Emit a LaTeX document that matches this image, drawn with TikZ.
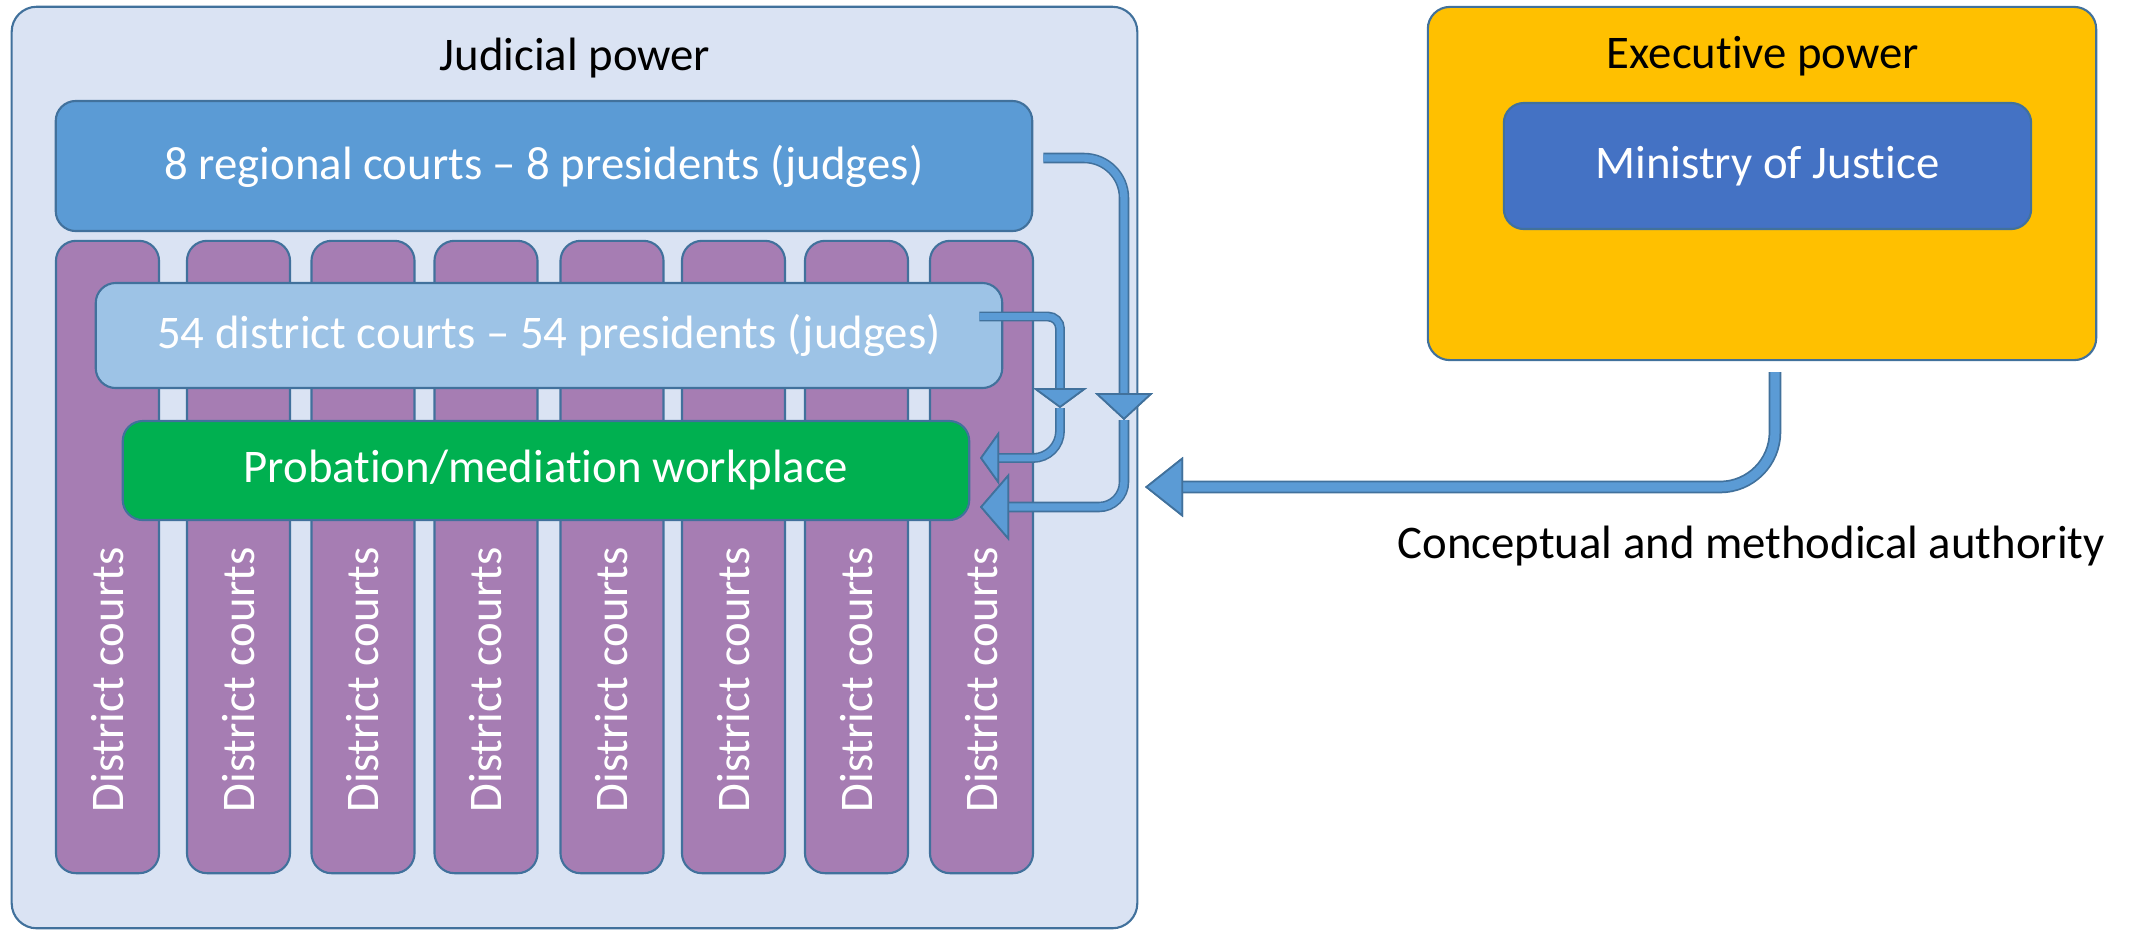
\documentclass[tikz,border=0pt]{standalone}
\usepackage{fontspec}
\setmainfont{Carlito}[Ligatures={TeX,NoCommon}, RawFeature={-liga;-clig;-dlig;-rlig;-calt}]
\usetikzlibrary{arrows.meta}
\definecolor{judfill}{HTML}{DAE3F3}
\definecolor{boxline}{HTML}{41719C}
\definecolor{regfill}{HTML}{5B9BD5}
\definecolor{distfill}{HTML}{9DC3E6}
\definecolor{colfill}{HTML}{A67DB3}
\definecolor{probfill}{HTML}{00B050}
\definecolor{exefill}{HTML}{FFC000}
\definecolor{minfill}{HTML}{4472C4}
\definecolor{arrfill}{HTML}{5B9BD5}
\tikzset{
  panel/.style={draw=boxline, line width=0.6pt, rounded corners=0.2cm, inner sep=0pt},
  slidefont/.style={font=\fontsize{13.3}{16}\selectfont},
  wtext/.style={text=white, slidefont},
  shaft/.style 2 args={draw=arrfill, line width=#2, preaction={draw=boxline, line width=#1}},
  head/.style 2 args={-{Triangle[width=#1, length=#2, line width=0.5pt, fill=arrfill, color=boxline]}}
}

\begin{document}
\begin{tikzpicture}[x=0.01cm, y=-0.01cm]
          \useasboundingbox (0,0) rectangle (2144,929);
          % judicial side
          \node[panel, fill=judfill, rounded corners=0.25cm, minimum width=11.25cm, minimum height=9.21cm] (jud) at (574.5,467.5) {};
          \node[slidefont, anchor=base] (judt) at (575,70) {Judicial power};
          \node[panel, fill=regfill, wtext, minimum width=9.76cm, minimum height=1.30cm] (reg) at (544,166) {8 regional courts -- 8 presidents (judges)};
          \foreach \cx [count=\i] in {107.5,238.5,363,486,612,733.5,856.5,981.5} {
            \node[panel, fill=colfill, minimum width=1.03cm, minimum height=6.32cm] (col\i) at (\cx,557) {};
            \node[wtext, rotate=90] (colt\i) at (\cx,680) {District courts};
          }
          \node[panel, fill=distfill, wtext, minimum width=9.06cm, minimum height=1.05cm] (dist) at (549,335.5) {54 district courts -- 54 presidents (judges)};
          \node[panel, fill=probfill, wtext, minimum width=8.46cm, minimum height=0.99cm] (prob) at (546,470.5) {Probation/mediation workplace};

          % executive side
          \node[panel, fill=exefill, rounded corners=0.22cm, minimum width=6.68cm, minimum height=3.53cm] (exe) at (1762,183.5) {};
          \node[slidefont, anchor=base] (exet) at (1763,68) {Executive power};
          \node[panel, fill=minfill, wtext, minimum width=5.27cm, minimum height=1.26cm] (min) at (1767.5,166) {Ministry of Justice};
          \node[slidefont, inner sep=0pt, anchor=base west] (auth) at (1397,558) {Conceptual and methodical authority};
          \node[text=gray, font=\fontsize{10}{12}\selectfont, anchor=north] (pgno) at (2025,919) {4};

          % arrows
          \coordinate (rgdown) at (1124,420);
          \coordinate (rgend) at (980,507);
          \coordinate (dsdown) at (1060,408);
          \coordinate (dsend) at (980,458);
          \coordinate (juend) at (1145,487);
          \draw[shaft={3pt}{2.1pt}, head={0.58cm}{0.27cm}, rounded corners=0.4cm] ([shift={(10,-8)}]reg.east) -| (rgdown);
          \draw[shaft={3pt}{2.1pt}, head={0.67cm}{0.29cm}, rounded corners=0.25cm] (rgdown) |- (rgend);
          \draw[shaft={2.8pt}{1.9pt}, head={0.54cm}{0.2cm}, rounded corners=0.12cm] ([shift={(-24,-19)}]dist.east) -| (dsdown);
          \draw[shaft={2.8pt}{1.9pt}, head={0.53cm}{0.19cm}, rounded corners=0.27cm] (dsdown) |- (dsend);
          \draw[shaft={3.6pt}{2.6pt}, head={0.6cm}{0.38cm}, rounded corners=0.55cm] ([shift={(13,11)}]exe.south) |- (juend);
        \end{tikzpicture}
\end{document}
